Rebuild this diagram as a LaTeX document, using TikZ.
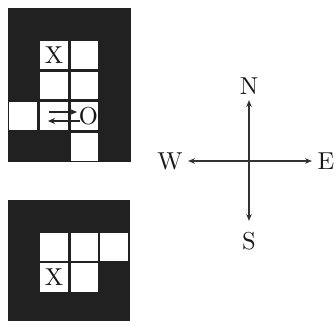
\documentclass[tikz,border=0pt]{standalone}
\usetikzlibrary{arrows.meta}
\begin{document}
\begin{tikzpicture}[x=1pt,y=-1pt,
  dark/.style={fill=black!87,draw=none},
  cellw/.style={fill=white,draw=none},
  lbl/.style={font=\fontsize{10}{12}\selectfont,scale=2.45,inner sep=0pt,text=black!90},
  arr/.style={draw=black!80,line width=1.4pt,-{Stealth[length=7pt,width=5.5pt]}},
  darr/.style={draw=black!85,line width=1.2pt,-{Stealth[length=7pt,width=6pt]}}]
\useasboundingbox (0,0) rectangle (336,321);
% top grid
\path[dark] (8,8) rectangle (131,162);
\path[cellw] (40,41) rectangle (68,69);
\path[cellw] (71,41) rectangle (98,69);
\path[cellw] (40,72) rectangle (68,99);
\path[cellw] (71,72) rectangle (98,99);
\path[cellw] (9,102) rectangle (37,130);
\path[cellw] (40,102) rectangle (68,130);
\path[cellw] (71,102) rectangle (98,130);
\path[cellw] (71,133) rectangle (98,161);
\node[lbl] (x1) at (54,55.5) {X};
\node[lbl] (o1) at (88.5,116.5) {O};
\coordinate (a1s) at (49,112);
\coordinate (a1e) at (77,112);
\coordinate (a2s) at (79.5,121);
\coordinate (a2e) at (48,121);
\draw[darr] (a1s) -- (a1e);
\draw[darr] (a2s) -- (a2e);
% bottom grid
\path[dark] (8,200) rectangle (130,321);
\path[cellw] (40,233) rectangle (68,261);
\path[cellw] (71,233) rectangle (98,261);
\path[cellw] (100,233) rectangle (128,261);
\path[cellw] (40,263) rectangle (68,292);
\path[cellw] (71,263) rectangle (98,292);
\node[lbl] (x2) at (54,277.5) {X};
% compass
\coordinate (c) at (249,161);
\coordinate (nE) at (249,100);
\coordinate (sE) at (249,221);
\coordinate (wE) at (188,161);
\coordinate (eE) at (312,161);
\node[lbl] (N) at (249,86) {N};
\node[lbl] (S) at (249,241) {S};
\node[lbl] (W) at (170,161) {W};
\node[lbl] (E) at (326,161) {E};
\draw[arr] (c) -- (nE);
\draw[arr] (c) -- (sE);
\draw[arr] (c) -- (wE);
\draw[arr] (c) -- (eE);
\end{tikzpicture}
\end{document}
